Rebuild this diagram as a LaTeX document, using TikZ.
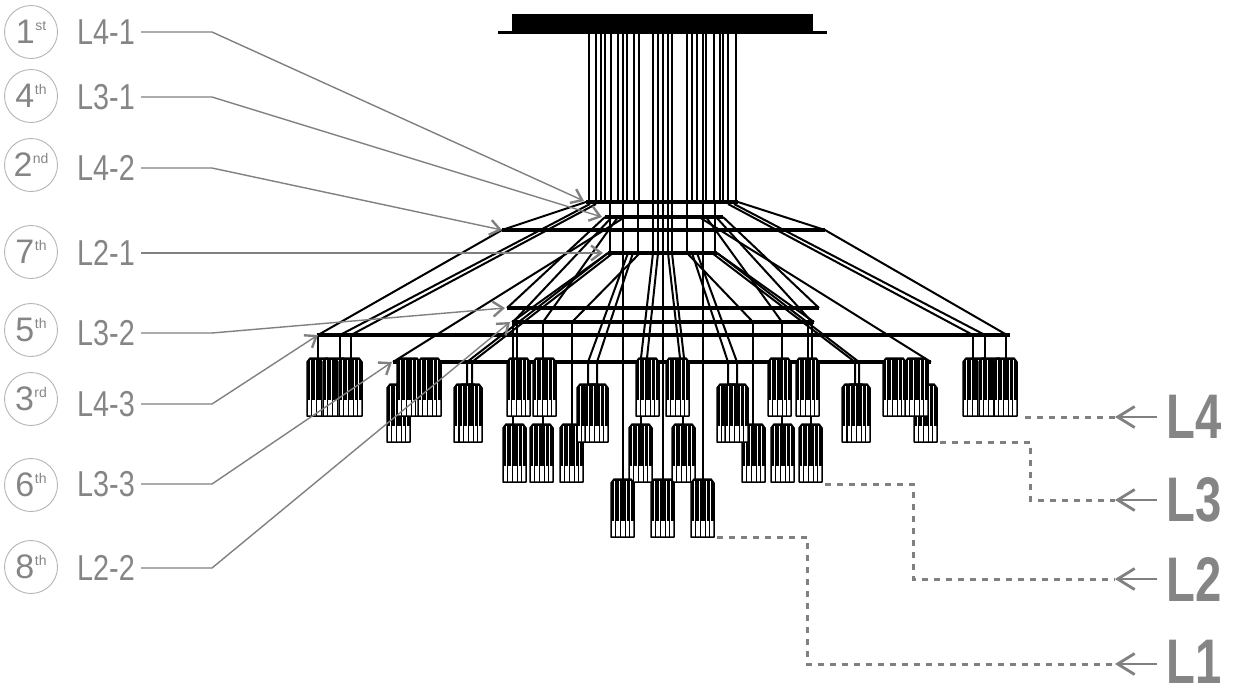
\documentclass[tikz,border=0pt]{standalone}
\usepackage{fontspec}
\setmainfont{Liberation Sans}
\usetikzlibrary{arrows.meta}
\definecolor{ldgray}{HTML}{808080}
\definecolor{txtgray}{HTML}{858585}
\definecolor{cgray}{HTML}{B4B4B4}
\newcommand\ordtxt[2]{{\fontsize{34}{34}\selectfont #1\hspace{0.5pt}\raisebox{13pt}{\fontsize{14}{14}\selectfont #2}}}
\newcommand\labtxt[1]{\scalebox{0.8}[1]{\fontsize{36}{36}\selectfont #1}}
\newcommand\bigtxt[1]{\scalebox{0.75}[1]{\fontsize{63}{63}\selectfont\bfseries #1}}
\tikzset{
  lamp/.pic={
    \fill[black] (0,4) -- (3,0) -- (20,0) -- (23,4) -- (23,42) -- (0,42) -- cycle;
    \fill[white] (0,42) rectangle (23,58);
    \foreach \u in {3.5,8,15,19.5} \draw[white,line width=0.4pt] (\u,2) -- (\u,42);
    \foreach \u in {4.5,9,14,18.5} \draw[black,line width=1pt] (\u,42) -- (\u,58);
    \draw[black,line width=1.5pt,line join=round] (0,4) -- (3,0) -- (20,0) -- (23,4) -- (23,58) -- (0,58) -- cycle;
  }
}
\begin{document}
\begin{tikzpicture}[x=1pt,y=-1pt,
  wire/.style={line width=2pt},
  ringbar/.style={line width=3.3pt},
  circ/.style={circle,draw=cgray,line width=0.9pt,minimum size=53pt,inner sep=0pt,text=txtgray},
  lbl/.style={anchor=west,inner xsep=6pt,inner ysep=0pt,text=txtgray},
  biglbl/.style={inner xsep=9pt,inner ysep=0pt,text=txtgray},
  leader/.style={draw=ldgray,line width=1.4pt,-{Straight Barb[length=10pt,width=15pt,line width=2.4pt]}},
  rarr/.style={draw=ldgray,line width=2.8pt,-{Straight Barb[length=17pt,width=21pt]}},
  dashln/.style={draw=ldgray,line width=3pt,dash pattern=on 6pt off 6pt}
]
\useasboundingbox (0,0) rectangle (1234,697);

% ---------- canopy ----------
\fill (512,14) rectangle (813,31);
\draw[line width=3pt] (498,32) -- (827,32);

% ---------- vertical wires from canopy ----------
\foreach \x in {589,596,601,605,611,618,627,634,639,653,658,668,672,687,692,697,706,714,720,723,728,736}
  \draw[wire] (\x,33) -- (\x,202);
\foreach \x in {623,663,703} \draw[wire] (\x,33) -- (\x,479);
\foreach \x in {610,638,653,658,668,672,687,715} \draw[wire] (\x,202) -- (\x,253);

% ---------- rings ----------
\draw[ringbar] (586,202) -- (738,202);
\draw[ringbar] (605,217) -- (723,217);
\draw[ringbar] (502,230) -- (825,230);
\draw[ringbar] (608,253) -- (717,253);
\draw[ringbar] (507,308) -- (819,308);
\draw[ringbar] (512,322) -- (814,322);
\draw[ringbar] (317,335) -- (1010,335);
\draw[ringbar] (393,362) -- (931,362);

% ---------- diagonal wires ----------
\draw[wire] (586,202) -- (502,230) -- (318,335);
\draw[wire] (738,202) -- (825,230) -- (1007,335);
\draw[wire] (590,204) -- (340,335);
\draw[wire] (596,204) -- (351,335);
\draw[wire] (728,204) -- (973,335);
\draw[wire] (734,204) -- (985,335);
\draw[wire] (605,217) -- (507,308);
\draw[wire] (723,217) -- (819,308);
\draw[wire] (612,217) -- (513,322);
\draw[wire] (716,217) -- (812,322);
\draw[wire] (625,217) -- (393,362);
\draw[wire] (699,217) -- (931,362);
\draw[wire] (618,217) -- (543,322);
\draw[wire] (706,217) -- (782,322);
\draw[wire] (608,253) -- (512,322);
\draw[wire] (717,253) -- (814,322);
\draw[wire] (640,253) -- (572,322);
\draw[wire] (687,253) -- (753,322);
\draw[wire] (608,253) -- (467,362) -- (467,384);
\draw[wire] (613,253) -- (472,362) -- (472,384);
\draw[wire] (712,253) -- (855,362) -- (855,384);
\draw[wire] (717,253) -- (859,362) -- (859,384);
\draw[wire] (628,253) -- (588,362) -- (588,384);
\draw[wire] (633,253) -- (597,362) -- (597,384);
\draw[wire] (692,253) -- (728,362) -- (728,384);
\draw[wire] (697,253) -- (737,362) -- (737,384);
\draw[wire] (653,253) -- (641,358);
\draw[wire] (658,253) -- (647,358);
\draw[wire] (668,253) -- (680,358);
\draw[wire] (672,253) -- (684,358);

% ---------- drops ----------
\foreach \x in {318,340,351,973,985,1006} \draw[wire] (\x,335) -- (\x,358);
\foreach \x in {513,517,543,782,808,812} \draw[wire] (\x,322) -- (\x,358);
\foreach \x in {572,753} \draw[wire] (\x,322) -- (\x,424);
\foreach \x in {513,543,641,683,782,811} \draw[wire] (\x,414) -- (\x,424);

% ---------- lamps ----------
\foreach \x in {503,530,560,629,672,742,771,799} \pic at (\x,424) {lamp};
\foreach \x in {611,651,691} \pic at (\x,479) {lamp};
\foreach \x in {387,454,459,577,585,914,717,725,842,847} \pic at (\x,384) {lamp};
\foreach \x in {307,323,339,397,418,507,533,636,666,768,796,883,905,963,979,994} \pic at (\x,358) {lamp};

% ---------- left labels ----------
\node[circ] (c1) at (31,32)  {\ordtxt{1}{st}};
\node[circ] (c2) at (31,96)  {\ordtxt{4}{th}};
\node[circ] (c3) at (31,165) {\ordtxt{2}{nd}};
\node[circ] (c4) at (31,252) {\ordtxt{7}{th}};
\node[circ] (c5) at (31,330) {\ordtxt{5}{th}};
\node[circ] (c6) at (31,399) {\ordtxt{3}{rd}};
\node[circ] (c7) at (31,485) {\ordtxt{6}{th}};
\node[circ] (c8) at (31,567) {\ordtxt{8}{th}};

\node[lbl] (n41) at (71,32)  {\labtxt{L4-1}};
\node[lbl] (n31) at (71,97)  {\labtxt{L3-1}};
\node[lbl] (n42) at (71,168) {\labtxt{L4-2}};
\node[lbl] (n21) at (71,253) {\labtxt{L2-1}};
\node[lbl] (n32) at (71,333) {\labtxt{L3-2}};
\node[lbl] (n43) at (71,404) {\labtxt{L4-3}};
\node[lbl] (n33) at (71,484) {\labtxt{L3-3}};
\node[lbl] (n22) at (71,568) {\labtxt{L2-2}};

\coordinate (k41) at (212,32);  \coordinate (t41) at (584,201);
\coordinate (k31) at (212,97);  \coordinate (t31) at (602,217);
\coordinate (k42) at (212,168); \coordinate (t42) at (502,230);
\coordinate (t21) at (603,253);
\coordinate (k32) at (212,333); \coordinate (t32) at (505,308);
\coordinate (k43) at (212,404); \coordinate (t43) at (318,335);
\coordinate (k33) at (212,484); \coordinate (t33) at (392,362);
\coordinate (k22) at (212,568); \coordinate (t22) at (510,322);

\draw[leader] (n41.east) -- (k41) -- (t41);
\draw[leader] (n31.east) -- (k31) -- (t31);
\draw[leader] (n42.east) -- (k42) -- (t42);
\draw[leader] (n21.east) -- (t21);
\draw[leader] (n32.east) -- (k32) -- (t32);
\draw[leader] (n43.east) -- (k43) -- (t43);
\draw[leader] (n33.east) -- (k33) -- (t33);
\draw[leader] (n22.east) -- (k22) -- (t22);

% ---------- right labels ----------
\node[biglbl] (L4) at (1194,417) {\bigtxt{L4}};
\node[biglbl] (L3) at (1194,500) {\bigtxt{L3}};
\node[biglbl] (L2) at (1194,579) {\bigtxt{L2}};
\node[biglbl] (L1) at (1194,662) {\bigtxt{L1}};

\coordinate (a4) at (1115,417); \coordinate (d4) at (1025,417);
\coordinate (a3) at (1115,500); \coordinate (d3) at (940,442); \coordinate (e3) at (1030,442);
\coordinate (a2) at (1115,579); \coordinate (d2) at (825,484); \coordinate (e2) at (913,484);
\coordinate (a1) at (1115,664); \coordinate (d1) at (717,537); \coordinate (e1) at (807,537);

\draw[dashln] (d4) -- (a4);
\draw[dashln] (d3) -- (e3) -- (e3 |- a3) -- (a3);
\draw[dashln] (d2) -- (e2) -- (e2 |- a2) -- (a2);
\draw[dashln] (d1) -- (e1) -- (e1 |- a1) -- (a1);

\draw[rarr] (L4.west) -- (a4);
\draw[rarr] (L3.west) -- (a3);
\draw[rarr] (L2.west) -- (a2);
\draw[rarr] (L1.west |- a1) -- (a1);
\end{tikzpicture}
\end{document}
